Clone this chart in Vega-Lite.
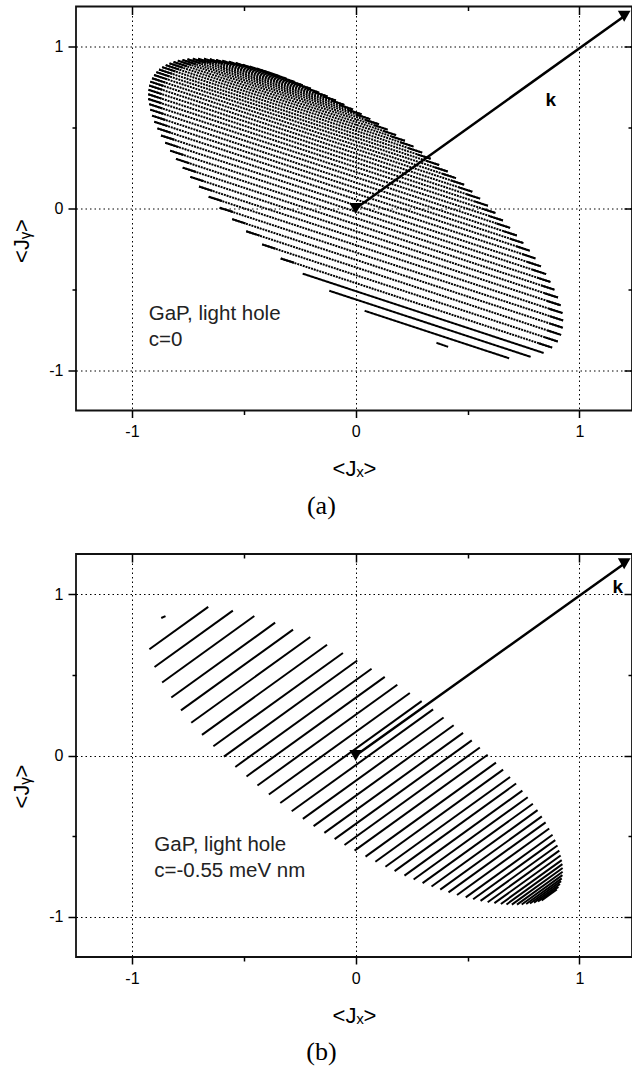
{
  "$schema": "https://vega.github.io/schema/vega-lite/v6.json",
  "padding": {"left": 9, "top": 4.5, "right": 0, "bottom": 0},
  "spacing": 32.5,
  "config": {
    "font": "Liberation Sans",
    "view": {"stroke": "#111", "strokeWidth": 1.8},
    "title": {"orient": "bottom", "font": "Liberation Serif", "fontSize": 26, "fontWeight": "normal", "color": "black", "offset": 13, "frame": "bounds", "anchor": "middle"},
    "axis": {"labelColor": "black", "titleColor": "black", "tickColor": "black", "labelFont": "Liberation Sans", "titleFont": "Liberation Sans"}
  },
  "datasets": {
    "linesA": [
      {"x1": 0.361, "y1": -0.831, "x2": 0.413, "y2": -0.856, "kind": "solid"},
      {"x1": 0.040, "y1": -0.633, "x2": 0.686, "y2": -0.927, "kind": "solid"},
      {"x1": -0.118, "y1": -0.509, "x2": 0.782, "y2": -0.918, "kind": "solid"},
      {"x1": -0.237, "y1": -0.403, "x2": 0.840, "y2": -0.894, "kind": "solid"},
      {"x1": -0.335, "y1": -0.309, "x2": 0.878, "y2": -0.861, "kind": "dotted"},
      {"x1": -0.418, "y1": -0.222, "x2": 0.903, "y2": -0.823, "kind": "dotted"},
      {"x1": -0.489, "y1": -0.141, "x2": 0.918, "y2": -0.782, "kind": "dotted"},
      {"x1": -0.552, "y1": -0.066, "x2": 0.926, "y2": -0.738, "kind": "dotted"},
      {"x1": -0.608, "y1": 0.005, "x2": 0.927, "y2": -0.693, "kind": "dotted"},
      {"x1": -0.657, "y1": 0.073, "x2": 0.924, "y2": -0.647, "kind": "dotted"},
      {"x1": -0.700, "y1": 0.136, "x2": 0.916, "y2": -0.599, "kind": "dotted"},
      {"x1": -0.739, "y1": 0.196, "x2": 0.904, "y2": -0.551, "kind": "dotted"},
      {"x1": -0.773, "y1": 0.253, "x2": 0.889, "y2": -0.503, "kind": "dotted"},
      {"x1": -0.803, "y1": 0.307, "x2": 0.871, "y2": -0.455, "kind": "dotted"},
      {"x1": -0.829, "y1": 0.358, "x2": 0.851, "y2": -0.406, "kind": "dotted"},
      {"x1": -0.851, "y1": 0.407, "x2": 0.828, "y2": -0.358, "kind": "dotted"},
      {"x1": -0.870, "y1": 0.452, "x2": 0.804, "y2": -0.309, "kind": "dotted"},
      {"x1": -0.886, "y1": 0.496, "x2": 0.778, "y2": -0.261, "kind": "dotted"},
      {"x1": -0.900, "y1": 0.537, "x2": 0.750, "y2": -0.214, "kind": "dotted"},
      {"x1": -0.910, "y1": 0.575, "x2": 0.720, "y2": -0.167, "kind": "dotted"},
      {"x1": -0.918, "y1": 0.612, "x2": 0.690, "y2": -0.120, "kind": "dotted"},
      {"x1": -0.923, "y1": 0.646, "x2": 0.658, "y2": -0.074, "kind": "dotted"},
      {"x1": -0.927, "y1": 0.678, "x2": 0.625, "y2": -0.028, "kind": "dotted"},
      {"x1": -0.927, "y1": 0.707, "x2": 0.591, "y2": 0.017, "kind": "dotted"},
      {"x1": -0.926, "y1": 0.735, "x2": 0.556, "y2": 0.061, "kind": "dotted"},
      {"x1": -0.923, "y1": 0.761, "x2": 0.521, "y2": 0.104, "kind": "dotted"},
      {"x1": -0.918, "y1": 0.785, "x2": 0.485, "y2": 0.147, "kind": "dotted"},
      {"x1": -0.910, "y1": 0.806, "x2": 0.448, "y2": 0.188, "kind": "dotted"},
      {"x1": -0.901, "y1": 0.826, "x2": 0.411, "y2": 0.229, "kind": "dotted"},
      {"x1": -0.891, "y1": 0.844, "x2": 0.373, "y2": 0.269, "kind": "dotted"},
      {"x1": -0.879, "y1": 0.860, "x2": 0.335, "y2": 0.308, "kind": "dotted"},
      {"x1": -0.865, "y1": 0.875, "x2": 0.297, "y2": 0.346, "kind": "dotted"},
      {"x1": -0.849, "y1": 0.887, "x2": 0.259, "y2": 0.383, "kind": "dotted"},
      {"x1": -0.832, "y1": 0.898, "x2": 0.220, "y2": 0.419, "kind": "dotted"},
      {"x1": -0.814, "y1": 0.907, "x2": 0.181, "y2": 0.454, "kind": "dotted"},
      {"x1": -0.795, "y1": 0.915, "x2": 0.143, "y2": 0.488, "kind": "dotted"},
      {"x1": -0.774, "y1": 0.920, "x2": 0.104, "y2": 0.521, "kind": "dotted"},
      {"x1": -0.752, "y1": 0.924, "x2": 0.065, "y2": 0.553, "kind": "dotted"},
      {"x1": -0.728, "y1": 0.927, "x2": 0.026, "y2": 0.583, "kind": "dotted"},
      {"x1": -0.704, "y1": 0.927, "x2": -0.012, "y2": 0.613, "kind": "dotted"},
      {"x1": -0.678, "y1": 0.927, "x2": -0.050, "y2": 0.641, "kind": "dotted"},
      {"x1": -0.652, "y1": 0.924, "x2": -0.088, "y2": 0.668, "kind": "dotted"},
      {"x1": -0.624, "y1": 0.920, "x2": -0.126, "y2": 0.694, "kind": "dotted"},
      {"x1": -0.596, "y1": 0.915, "x2": -0.164, "y2": 0.718, "kind": "dotted"},
      {"x1": -0.566, "y1": 0.908, "x2": -0.200, "y2": 0.741, "kind": "dotted"},
      {"x1": -0.536, "y1": 0.900, "x2": -0.237, "y2": 0.763, "kind": "dotted"},
      {"x1": -0.505, "y1": 0.890, "x2": -0.273, "y2": 0.784, "kind": "solid"},
      {"x1": -0.474, "y1": 0.879, "x2": -0.308, "y2": 0.803, "kind": "solid"},
      {"x1": -0.443, "y1": 0.867, "x2": -0.341, "y2": 0.820, "kind": "solid"}
    ],
    "capsA": [
      {"x1": -0.335, "y1": -0.309, "x2": -0.275, "y2": -0.336}, {"x1": 0.818, "y1": -0.834, "x2": 0.878, "y2": -0.861},
      {"x1": -0.418, "y1": -0.222, "x2": -0.358, "y2": -0.249}, {"x1": 0.843, "y1": -0.796, "x2": 0.903, "y2": -0.823},
      {"x1": -0.489, "y1": -0.141, "x2": -0.429, "y2": -0.168}, {"x1": 0.858, "y1": -0.755, "x2": 0.918, "y2": -0.782},
      {"x1": -0.552, "y1": -0.066, "x2": -0.492, "y2": -0.093}, {"x1": 0.866, "y1": -0.711, "x2": 0.926, "y2": -0.738},
      {"x1": -0.608, "y1": 0.005, "x2": -0.548, "y2": -0.022}, {"x1": 0.867, "y1": -0.666, "x2": 0.927, "y2": -0.693},
      {"x1": -0.657, "y1": 0.073, "x2": -0.597, "y2": 0.046}, {"x1": 0.864, "y1": -0.620, "x2": 0.924, "y2": -0.647},
      {"x1": -0.700, "y1": 0.136, "x2": -0.640, "y2": 0.109}, {"x1": 0.856, "y1": -0.572, "x2": 0.916, "y2": -0.599},
      {"x1": -0.739, "y1": 0.196, "x2": -0.679, "y2": 0.169}, {"x1": 0.844, "y1": -0.524, "x2": 0.904, "y2": -0.551},
      {"x1": -0.773, "y1": 0.253, "x2": -0.713, "y2": 0.226}, {"x1": 0.829, "y1": -0.476, "x2": 0.889, "y2": -0.503},
      {"x1": -0.803, "y1": 0.307, "x2": -0.743, "y2": 0.280}, {"x1": 0.811, "y1": -0.428, "x2": 0.871, "y2": -0.455},
      {"x1": -0.829, "y1": 0.358, "x2": -0.769, "y2": 0.331}, {"x1": 0.791, "y1": -0.379, "x2": 0.851, "y2": -0.406},
      {"x1": -0.851, "y1": 0.407, "x2": -0.791, "y2": 0.380}, {"x1": 0.768, "y1": -0.331, "x2": 0.828, "y2": -0.358},
      {"x1": -0.870, "y1": 0.452, "x2": -0.810, "y2": 0.425}, {"x1": 0.744, "y1": -0.282, "x2": 0.804, "y2": -0.309},
      {"x1": -0.886, "y1": 0.496, "x2": -0.826, "y2": 0.469}, {"x1": 0.718, "y1": -0.234, "x2": 0.778, "y2": -0.261},
      {"x1": -0.900, "y1": 0.537, "x2": -0.840, "y2": 0.510}, {"x1": 0.690, "y1": -0.187, "x2": 0.750, "y2": -0.214},
      {"x1": -0.910, "y1": 0.575, "x2": -0.850, "y2": 0.548}, {"x1": 0.660, "y1": -0.140, "x2": 0.720, "y2": -0.167},
      {"x1": -0.918, "y1": 0.612, "x2": -0.858, "y2": 0.585}, {"x1": 0.630, "y1": -0.093, "x2": 0.690, "y2": -0.120},
      {"x1": -0.923, "y1": 0.646, "x2": -0.863, "y2": 0.619}, {"x1": 0.598, "y1": -0.047, "x2": 0.658, "y2": -0.074},
      {"x1": -0.927, "y1": 0.678, "x2": -0.867, "y2": 0.651}, {"x1": 0.565, "y1": -0.001, "x2": 0.625, "y2": -0.028},
      {"x1": -0.927, "y1": 0.707, "x2": -0.867, "y2": 0.680}, {"x1": 0.531, "y1": 0.044, "x2": 0.591, "y2": 0.017},
      {"x1": -0.926, "y1": 0.735, "x2": -0.866, "y2": 0.708}, {"x1": 0.496, "y1": 0.088, "x2": 0.556, "y2": 0.061},
      {"x1": -0.923, "y1": 0.761, "x2": -0.863, "y2": 0.734}, {"x1": 0.461, "y1": 0.131, "x2": 0.521, "y2": 0.104},
      {"x1": -0.918, "y1": 0.785, "x2": -0.858, "y2": 0.758}, {"x1": 0.425, "y1": 0.174, "x2": 0.485, "y2": 0.147},
      {"x1": -0.910, "y1": 0.806, "x2": -0.850, "y2": 0.779}, {"x1": 0.388, "y1": 0.215, "x2": 0.448, "y2": 0.188},
      {"x1": -0.901, "y1": 0.826, "x2": -0.841, "y2": 0.799}, {"x1": 0.351, "y1": 0.256, "x2": 0.411, "y2": 0.229},
      {"x1": -0.891, "y1": 0.844, "x2": -0.831, "y2": 0.817}, {"x1": 0.313, "y1": 0.296, "x2": 0.373, "y2": 0.269},
      {"x1": -0.879, "y1": 0.860, "x2": -0.819, "y2": 0.833}, {"x1": 0.275, "y1": 0.335, "x2": 0.335, "y2": 0.308},
      {"x1": -0.865, "y1": 0.875, "x2": -0.805, "y2": 0.848}, {"x1": 0.237, "y1": 0.373, "x2": 0.297, "y2": 0.346},
      {"x1": -0.849, "y1": 0.887, "x2": -0.789, "y2": 0.860}, {"x1": 0.199, "y1": 0.410, "x2": 0.259, "y2": 0.383},
      {"x1": -0.832, "y1": 0.898, "x2": -0.772, "y2": 0.871}, {"x1": 0.160, "y1": 0.446, "x2": 0.220, "y2": 0.419},
      {"x1": -0.814, "y1": 0.907, "x2": -0.754, "y2": 0.880}, {"x1": 0.121, "y1": 0.481, "x2": 0.181, "y2": 0.454},
      {"x1": -0.795, "y1": 0.915, "x2": -0.735, "y2": 0.888}, {"x1": 0.083, "y1": 0.515, "x2": 0.143, "y2": 0.488},
      {"x1": -0.774, "y1": 0.920, "x2": -0.714, "y2": 0.893}, {"x1": 0.044, "y1": 0.548, "x2": 0.104, "y2": 0.521},
      {"x1": -0.752, "y1": 0.924, "x2": -0.692, "y2": 0.897}, {"x1": 0.005, "y1": 0.580, "x2": 0.065, "y2": 0.553},
      {"x1": -0.728, "y1": 0.927, "x2": -0.668, "y2": 0.900}, {"x1": -0.034, "y1": 0.610, "x2": 0.026, "y2": 0.583},
      {"x1": -0.704, "y1": 0.927, "x2": -0.644, "y2": 0.900}, {"x1": -0.072, "y1": 0.640, "x2": -0.012, "y2": 0.613},
      {"x1": -0.678, "y1": 0.927, "x2": -0.618, "y2": 0.900}, {"x1": -0.110, "y1": 0.668, "x2": -0.050, "y2": 0.641},
      {"x1": -0.652, "y1": 0.924, "x2": -0.592, "y2": 0.897}, {"x1": -0.148, "y1": 0.695, "x2": -0.088, "y2": 0.668},
      {"x1": -0.624, "y1": 0.920, "x2": -0.564, "y2": 0.893}, {"x1": -0.186, "y1": 0.721, "x2": -0.126, "y2": 0.694},
      {"x1": -0.596, "y1": 0.915, "x2": -0.536, "y2": 0.888}, {"x1": -0.224, "y1": 0.745, "x2": -0.164, "y2": 0.718},
      {"x1": -0.566, "y1": 0.908, "x2": -0.506, "y2": 0.881}, {"x1": -0.260, "y1": 0.768, "x2": -0.200, "y2": 0.741},
      {"x1": -0.536, "y1": 0.900, "x2": -0.476, "y2": 0.873}, {"x1": -0.297, "y1": 0.790, "x2": -0.237, "y2": 0.763}
    ],
    "linesB": [
      {"x1": -0.869, "y1": 0.853, "x2": -0.850, "y2": 0.865},
      {"x1": -0.922, "y1": 0.659, "x2": -0.659, "y2": 0.922},
      {"x1": -0.899, "y1": 0.549, "x2": -0.549, "y2": 0.899},
      {"x1": -0.865, "y1": 0.453, "x2": -0.453, "y2": 0.865},
      {"x1": -0.824, "y1": 0.360, "x2": -0.360, "y2": 0.824},
      {"x1": -0.781, "y1": 0.280, "x2": -0.280, "y2": 0.781},
      {"x1": -0.735, "y1": 0.203, "x2": -0.203, "y2": 0.735},
      {"x1": -0.687, "y1": 0.128, "x2": -0.128, "y2": 0.687},
      {"x1": -0.636, "y1": 0.057, "x2": -0.057, "y2": 0.636},
      {"x1": -0.589, "y1": -0.007, "x2": 0.007, "y2": 0.589},
      {"x1": -0.538, "y1": -0.071, "x2": 0.071, "y2": 0.538},
      {"x1": -0.488, "y1": -0.130, "x2": 0.130, "y2": 0.488},
      {"x1": -0.439, "y1": -0.186, "x2": 0.186, "y2": 0.439},
      {"x1": -0.388, "y1": -0.242, "x2": 0.242, "y2": 0.388},
      {"x1": -0.337, "y1": -0.295, "x2": 0.295, "y2": 0.337},
      {"x1": -0.286, "y1": -0.346, "x2": 0.346, "y2": 0.286},
      {"x1": -0.236, "y1": -0.393, "x2": 0.393, "y2": 0.236},
      {"x1": -0.188, "y1": -0.438, "x2": 0.438, "y2": 0.188},
      {"x1": -0.140, "y1": -0.480, "x2": 0.480, "y2": 0.140},
      {"x1": -0.094, "y1": -0.519, "x2": 0.519, "y2": 0.094},
      {"x1": -0.050, "y1": -0.555, "x2": 0.555, "y2": 0.050},
      {"x1": -0.005, "y1": -0.590, "x2": 0.590, "y2": 0.005},
      {"x1": 0.044, "y1": -0.627, "x2": 0.627, "y2": -0.044},
      {"x1": 0.088, "y1": -0.659, "x2": 0.659, "y2": -0.088},
      {"x1": 0.133, "y1": -0.690, "x2": 0.690, "y2": -0.133},
      {"x1": 0.174, "y1": -0.717, "x2": 0.717, "y2": -0.174},
      {"x1": 0.218, "y1": -0.745, "x2": 0.745, "y2": -0.218},
      {"x1": 0.259, "y1": -0.769, "x2": 0.769, "y2": -0.259},
      {"x1": 0.299, "y1": -0.792, "x2": 0.792, "y2": -0.299},
      {"x1": 0.339, "y1": -0.813, "x2": 0.813, "y2": -0.339},
      {"x1": 0.378, "y1": -0.832, "x2": 0.832, "y2": -0.378},
      {"x1": 0.415, "y1": -0.849, "x2": 0.849, "y2": -0.415},
      {"x1": 0.453, "y1": -0.865, "x2": 0.865, "y2": -0.453},
      {"x1": 0.492, "y1": -0.880, "x2": 0.880, "y2": -0.492},
      {"x1": 0.525, "y1": -0.892, "x2": 0.892, "y2": -0.525},
      {"x1": 0.558, "y1": -0.902, "x2": 0.902, "y2": -0.558},
      {"x1": 0.590, "y1": -0.910, "x2": 0.910, "y2": -0.590},
      {"x1": 0.620, "y1": -0.916, "x2": 0.916, "y2": -0.620},
      {"x1": 0.649, "y1": -0.921, "x2": 0.921, "y2": -0.649},
      {"x1": 0.674, "y1": -0.924, "x2": 0.924, "y2": -0.674},
      {"x1": 0.698, "y1": -0.925, "x2": 0.925, "y2": -0.698},
      {"x1": 0.721, "y1": -0.925, "x2": 0.925, "y2": -0.721},
      {"x1": 0.742, "y1": -0.924, "x2": 0.924, "y2": -0.742},
      {"x1": 0.762, "y1": -0.921, "x2": 0.921, "y2": -0.762},
      {"x1": 0.779, "y1": -0.918, "x2": 0.918, "y2": -0.779},
      {"x1": 0.797, "y1": -0.913, "x2": 0.913, "y2": -0.797},
      {"x1": 0.815, "y1": -0.906, "x2": 0.906, "y2": -0.815},
      {"x1": 0.831, "y1": -0.899, "x2": 0.899, "y2": -0.831}
    ],
    "arrow": [{"x1": 0, "y1": 0, "x2": 1.2, "y2": 1.19}],
    "tips": [{"x": 0, "y": 0}, {"x": 1.2, "y": 1.19}],
    "kA": [{"x": 0.872, "y": 0.67, "label": "k"}],
    "kB": [{"x": 1.171, "y": 1.045, "label": "k"}],
    "noteA": [{"x": -0.925, "y": -0.691, "label": "GaP, light hole\nc=0"}],
    "noteB": [{"x": -0.9, "y": -0.593, "label": "GaP, light hole\nc=-0.55 meV nm"}]
  },
  "vconcat": [
    {
      "width": 556,
      "height": 404,
      "title": "(a)",
      "resolve": {"axis": {"x": "independent", "y": "independent"}},
      "layer": [
        {
          "data": {"name": "linesA"},
          "mark": {"type": "rule", "color": "black", "strokeWidth": 2},
          "encoding": {
            "x": {"field": "x1", "type": "quantitative", "scale": {"domain": [-1.25, 1.235], "nice": false, "zero": false},
              "axis": {"values": [-1, -0.5, 0, 0.5, 1], "labelExpr": "abs(datum.value) == 0.5 ? '' : toString(datum.value)", "title": "<Jₓ>", "titleFontSize": 22, "titleFontWeight": "normal", "labelFontSize": 16, "labelOverlap": false, "labelFlush": false, "grid": true, "gridColor": "black", "gridDash": [1.5, 3], "gridWidth": 1, "gridOpacity": {"condition": {"test": "abs(datum.value) == 0.5", "value": 0}, "value": 1}, "tickSize": {"condition": {"test": "abs(datum.value) == 0.5", "value": 4}, "value": 7}, "tickWidth": 1.5, "domain": false, "labelPadding": 6, "titlePadding": 19}},
            "y": {"field": "y1", "type": "quantitative", "scale": {"domain": [-1.25, 1.25], "nice": false, "zero": false},
              "axis": {"values": [-1, -0.5, 0, 0.5, 1], "labelExpr": "abs(datum.value) == 0.5 ? '' : toString(datum.value)", "title": "<Jᵧ>", "titleFontSize": 22, "titleFontWeight": "normal", "titleX": -48, "titleY": 234, "titleBaseline": "alphabetic", "titleAlign": "center", "labelFontSize": 16, "labelOverlap": false, "labelFlush": false, "grid": true, "gridColor": "black", "gridDash": [1.5, 3], "gridWidth": 1, "gridOpacity": {"condition": {"test": "abs(datum.value) == 0.5", "value": 0}, "value": 1}, "tickSize": {"condition": {"test": "abs(datum.value) == 0.5", "value": 4}, "value": 8}, "tickWidth": 1.5, "domain": false, "labelPadding": 5}},
            "x2": {"field": "x2"},
            "y2": {"field": "y2"},
            "strokeDash": {"field": "kind", "type": "nominal", "scale": {"domain": ["solid", "dotted"], "range": [[1, 0], [2, 0.9]]}, "legend": null}
          }
        },
        {
          "data": {"name": "capsA"},
          "mark": {"type": "rule", "color": "black", "strokeWidth": 2},
          "encoding": {
            "x": {"field": "x1", "type": "quantitative", "scale": {"domain": [-1.25, 1.235], "nice": false, "zero": false}, "axis": null},
            "y": {"field": "y1", "type": "quantitative", "scale": {"domain": [-1.25, 1.25], "nice": false, "zero": false}, "axis": null},
            "x2": {"field": "x2"},
            "y2": {"field": "y2"}
          }
        },
        {
          "data": {"name": "arrow"},
          "mark": {"type": "rule", "color": "black", "strokeWidth": 2.5},
          "encoding": {
            "x": {"field": "x1", "type": "quantitative", "scale": {"domain": [-1.25, 1.235], "nice": false, "zero": false},
              "axis": {"orient": "top", "values": [-1, -0.5, 0, 0.5, 1], "labels": false, "title": null, "domain": false, "grid": false, "tickSize": {"condition": {"test": "abs(datum.value) == 0.5", "value": -4}, "value": -8}, "tickWidth": 1.5}},
            "y": {"field": "y1", "type": "quantitative", "scale": {"domain": [-1.25, 1.25], "nice": false, "zero": false},
              "axis": {"orient": "right", "values": [-1, -0.5, 0, 0.5, 1], "labels": false, "title": null, "domain": false, "grid": false, "tickSize": {"condition": {"test": "abs(datum.value) == 0.5", "value": -4}, "value": -8}, "tickWidth": 1.5}},
            "x2": {"field": "x2"},
            "y2": {"field": "y2"}
          }
        },
        {
          "data": {"name": "tips"},
          "mark": {"type": "point", "shape": "triangle-down", "filled": true, "color": "black", "size": 160, "opacity": 1},
          "encoding": {
            "x": {"field": "x", "type": "quantitative", "scale": {"domain": [-1.25, 1.235], "nice": false, "zero": false}, "axis": null},
            "y": {"field": "y", "type": "quantitative", "scale": {"domain": [-1.25, 1.25], "nice": false, "zero": false}, "axis": null}
          }
        },
        {
          "data": {"name": "kA"},
          "mark": {"type": "text", "fontSize": 19, "fontWeight": "bold", "color": "black", "align": "center", "baseline": "middle"},
          "encoding": {
            "x": {"field": "x", "type": "quantitative", "scale": {"domain": [-1.25, 1.235], "nice": false, "zero": false}, "axis": null},
            "y": {"field": "y", "type": "quantitative", "scale": {"domain": [-1.25, 1.25], "nice": false, "zero": false}, "axis": null},
            "text": {"field": "label"}
          }
        },
        {
          "data": {"name": "noteA"},
          "mark": {"type": "text", "fontSize": 20.5, "color": "#222", "align": "left", "baseline": "alphabetic", "lineBreak": "\n", "lineHeight": 25.5},
          "encoding": {
            "x": {"field": "x", "type": "quantitative", "scale": {"domain": [-1.25, 1.235], "nice": false, "zero": false}, "axis": null},
            "y": {"field": "y", "type": "quantitative", "scale": {"domain": [-1.25, 1.25], "nice": false, "zero": false}, "axis": null},
            "text": {"field": "label"}
          }
        }
      ]
    },
    {
      "width": 556,
      "height": 403,
      "title": "(b)",
      "resolve": {"axis": {"x": "independent", "y": "independent"}},
      "layer": [
        {
          "data": {"name": "linesB"},
          "mark": {"type": "rule", "color": "black", "strokeWidth": 2},
          "encoding": {
            "x": {"field": "x1", "type": "quantitative", "scale": {"domain": [-1.25, 1.235], "nice": false, "zero": false},
              "axis": {"values": [-1, -0.5, 0, 0.5, 1], "labelExpr": "abs(datum.value) == 0.5 ? '' : toString(datum.value)", "title": "<Jₓ>", "titleFontSize": 22, "titleFontWeight": "normal", "labelFontSize": 16, "labelOverlap": false, "labelFlush": false, "grid": true, "gridColor": "black", "gridDash": [1.5, 3], "gridWidth": 1, "gridOpacity": {"condition": {"test": "abs(datum.value) == 0.5", "value": 0}, "value": 1}, "tickSize": {"condition": {"test": "abs(datum.value) == 0.5", "value": 4}, "value": 7}, "tickWidth": 1.5, "domain": false, "labelPadding": 6, "titlePadding": 19}},
            "y": {"field": "y1", "type": "quantitative", "scale": {"domain": [-1.25, 1.25], "nice": false, "zero": false},
              "axis": {"values": [-1, -0.5, 0, 0.5, 1], "labelExpr": "abs(datum.value) == 0.5 ? '' : toString(datum.value)", "title": "<Jᵧ>", "titleFontSize": 22, "titleFontWeight": "normal", "titleX": -48, "titleY": 232, "titleBaseline": "alphabetic", "titleAlign": "center", "labelFontSize": 16, "labelOverlap": false, "labelFlush": false, "grid": true, "gridColor": "black", "gridDash": [1.5, 3], "gridWidth": 1, "gridOpacity": {"condition": {"test": "abs(datum.value) == 0.5", "value": 0}, "value": 1}, "tickSize": {"condition": {"test": "abs(datum.value) == 0.5", "value": 4}, "value": 8}, "tickWidth": 1.5, "domain": false, "labelPadding": 5}},
            "x2": {"field": "x2"},
            "y2": {"field": "y2"}
          }
        },
        {
          "data": {"name": "arrow"},
          "mark": {"type": "rule", "color": "black", "strokeWidth": 2.5},
          "encoding": {
            "x": {"field": "x1", "type": "quantitative", "scale": {"domain": [-1.25, 1.235], "nice": false, "zero": false},
              "axis": {"orient": "top", "values": [-1, -0.5, 0, 0.5, 1], "labels": false, "title": null, "domain": false, "grid": false, "tickSize": {"condition": {"test": "abs(datum.value) == 0.5", "value": -4}, "value": -8}, "tickWidth": 1.5}},
            "y": {"field": "y1", "type": "quantitative", "scale": {"domain": [-1.25, 1.25], "nice": false, "zero": false},
              "axis": {"orient": "right", "values": [-1, -0.5, 0, 0.5, 1], "labels": false, "title": null, "domain": false, "grid": false, "tickSize": {"condition": {"test": "abs(datum.value) == 0.5", "value": -4}, "value": -8}, "tickWidth": 1.5}},
            "x2": {"field": "x2"},
            "y2": {"field": "y2"}
          }
        },
        {
          "data": {"name": "tips"},
          "mark": {"type": "point", "shape": "triangle-down", "filled": true, "color": "black", "size": 160, "opacity": 1},
          "encoding": {
            "x": {"field": "x", "type": "quantitative", "scale": {"domain": [-1.25, 1.235], "nice": false, "zero": false}, "axis": null},
            "y": {"field": "y", "type": "quantitative", "scale": {"domain": [-1.25, 1.25], "nice": false, "zero": false}, "axis": null}
          }
        },
        {
          "data": {"name": "kB"},
          "mark": {"type": "text", "fontSize": 19, "fontWeight": "bold", "color": "black", "align": "center", "baseline": "middle"},
          "encoding": {
            "x": {"field": "x", "type": "quantitative", "scale": {"domain": [-1.25, 1.235], "nice": false, "zero": false}, "axis": null},
            "y": {"field": "y", "type": "quantitative", "scale": {"domain": [-1.25, 1.25], "nice": false, "zero": false}, "axis": null},
            "text": {"field": "label"}
          }
        },
        {
          "data": {"name": "noteB"},
          "mark": {"type": "text", "fontSize": 20.5, "color": "#222", "align": "left", "baseline": "alphabetic", "lineBreak": "\n", "lineHeight": 26},
          "encoding": {
            "x": {"field": "x", "type": "quantitative", "scale": {"domain": [-1.25, 1.235], "nice": false, "zero": false}, "axis": null},
            "y": {"field": "y", "type": "quantitative", "scale": {"domain": [-1.25, 1.25], "nice": false, "zero": false}, "axis": null},
            "text": {"field": "label"}
          }
        }
      ]
    }
  ]
}
